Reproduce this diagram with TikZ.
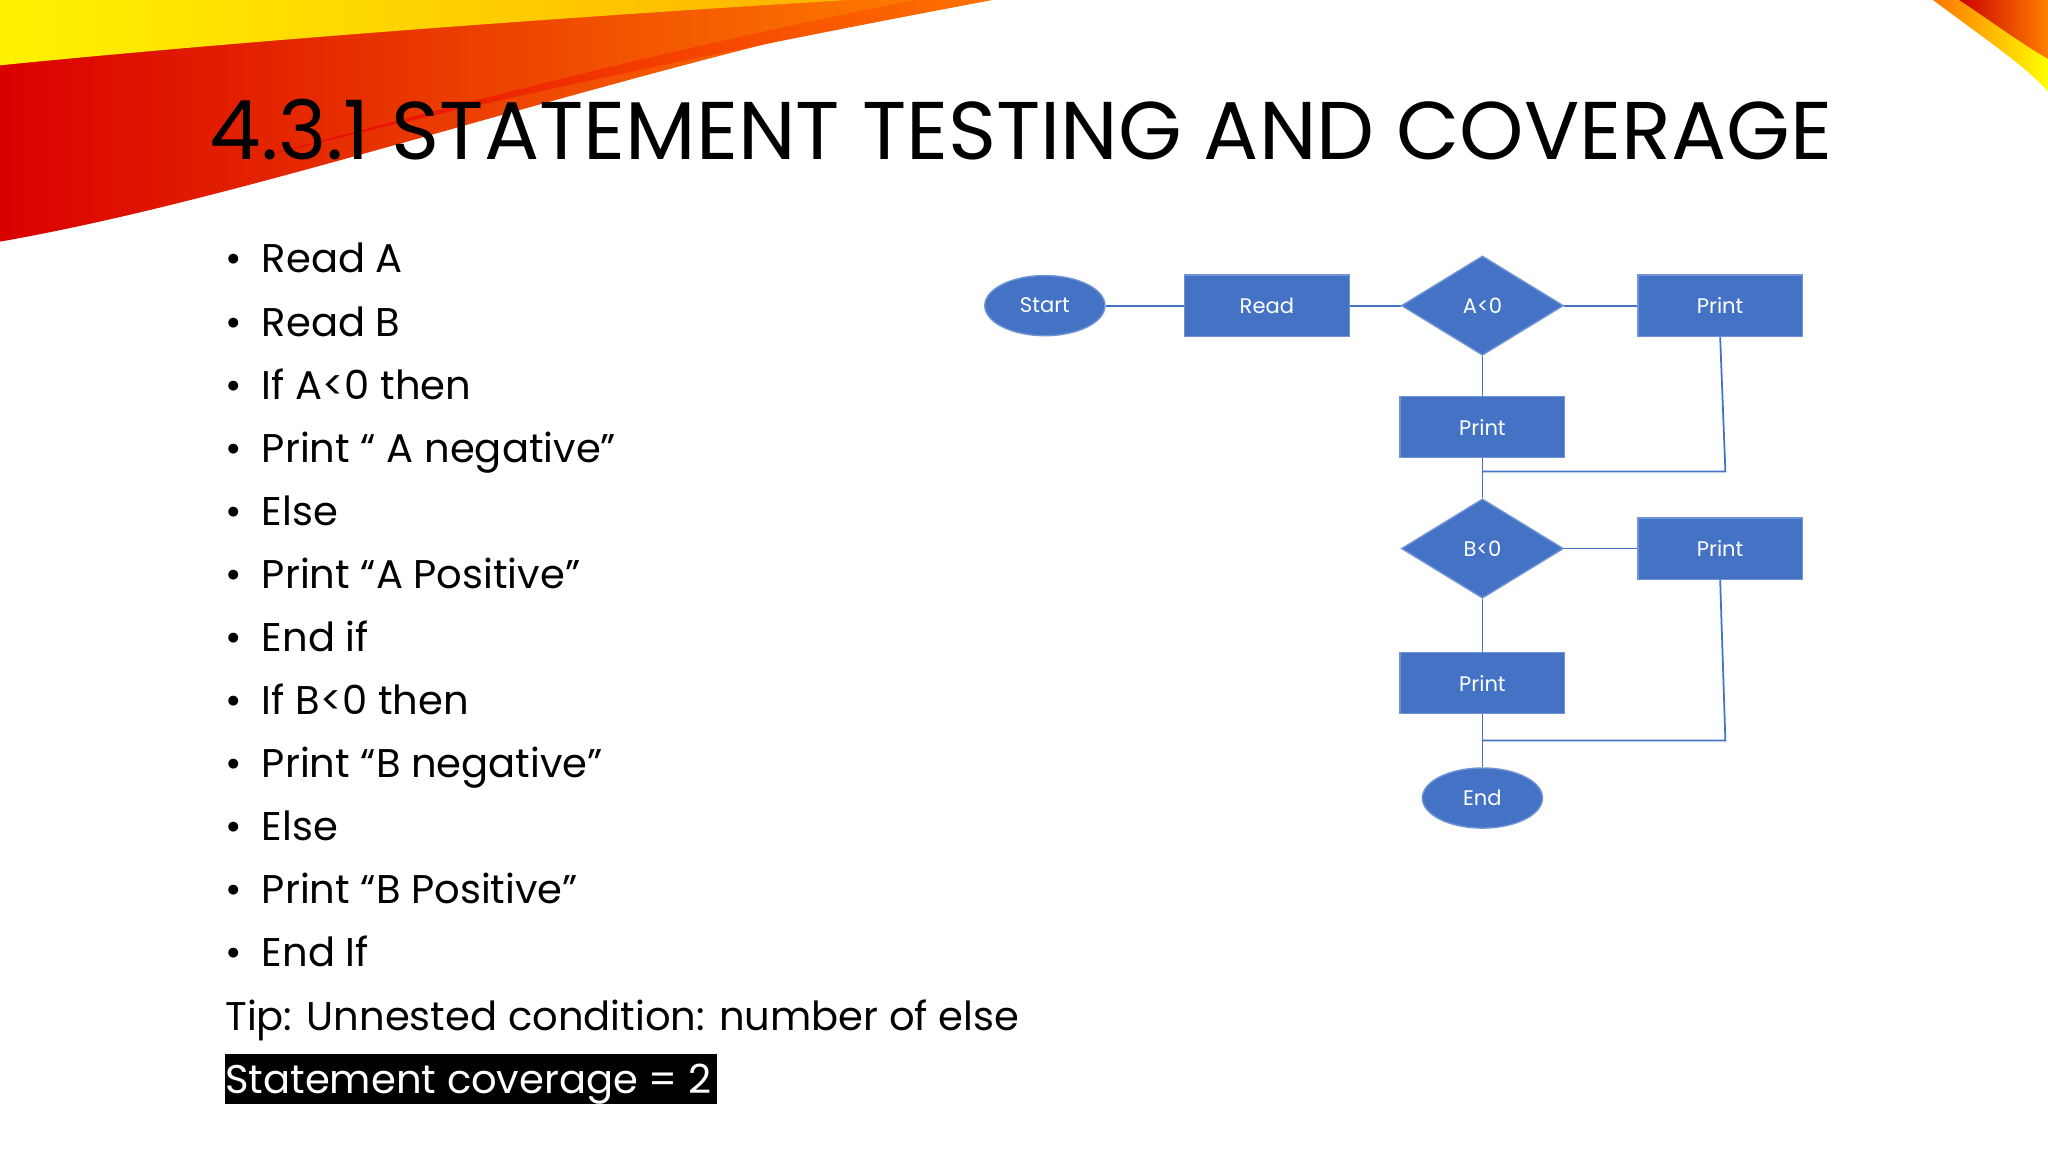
\documentclass[tikz,border=0pt]{standalone}
\usepackage{fontspec}
\setmainfont{Poppins}
\usetikzlibrary{shapes.geometric}
\definecolor{fb}{HTML}{4472C4}
\definecolor{fbl}{HTML}{6F93D6}
\tikzset{
 box/.style={draw=fbl,fill=fb,minimum width=126*0.01306cm,minimum height=47*0.01306cm,text=white,font=\fontsize{6}{7}\selectfont,inner sep=0},
 oval/.style={ellipse,draw=fbl,fill=fb,minimum width=92*0.01306cm,minimum height=46*0.01306cm,text=white,font=\fontsize{6}{7}\selectfont,inner sep=0},
 dia/.style={diamond,draw=fbl,fill=fb,minimum width=124*0.01306cm,minimum height=76*0.01306cm,aspect=1.6,text=white,font=\fontsize{6}{7}\selectfont,inner sep=0},
 ln/.style={draw=fb,line width=0.5pt},
 item/.style={anchor=base west,font=\fontsize{11.4}{14}\selectfont,inner sep=0}
}
\begin{document}
\begin{tikzpicture}[x=0.01306cm,y=-0.01306cm]
\useasboundingbox (0,0) rectangle (1568,882);
\fill[white] (0,0) rectangle (1568,882);
% swooshes
\shade[left color=red!85!black,right color=orange] (0,185) .. controls (200,150) and (450,60) .. (730,0) -- (0,0) -- cycle;
\shade[left color=yellow!90!orange,right color=orange!60!yellow] (0,50) .. controls (200,30) and (450,12) .. (650,0) -- (0,0) -- cycle;
\shade[left color=red!90!black,right color=orange!90!red] (200,120) .. controls (400,70) and (600,30) .. (760,0) -- (700,0) .. controls (500,40) and (350,80) .. (200,120);
\shade[left color=orange!90!red,right color=yellow] (1480,0) .. controls (1520,30) and (1550,50) .. (1568,70) -- (1568,0) -- cycle;
\shade[left color=red!80!black,right color=orange] (1500,0) .. controls (1530,20) and (1550,35) .. (1568,45) -- (1568,0) -- cycle;
\node[anchor=base west,inner sep=0,font=\fontsize{23.3}{25}\selectfont] (title) at (160,122) {4.3.1 STATEMENT TESTING AND COVERAGE};
% bullets
\foreach \t [count=\i from 0] in {Read A,Read B,If A<0 then,Print “ A negative”,Else,Print “A Positive”,End if,If B<0 then,Print “B negative”,Else,Print “B Positive”,End If}{
  \node[item] (b\i) at (200,209+48.3*\i) {\t};
  \node[item] (d\i) at (172,209+48.3*\i) {•};
}
\node[item] (tip) at (172,789) {Tip: Unnested condition: number of else};
\fill[black] (172,807) rectangle (549,845);
\node[item,text=white] (sc) at (172,837) {Statement coverage = 2};
% flowchart
\node[oval] (st) at (800,234) {Start};
\node[box] (rd) at (970,234) {Read};
\node[dia] (a) at (1135,234) {A<0};
\node[box] (pa1) at (1317,234) {Print};
\node[box] (pa2) at (1135,327) {Print};
\node[dia] (b) at (1135,420) {B<0};
\node[box] (pb1) at (1317,420) {Print};
\node[box] (pb2) at (1135,523) {Print};
\node[oval] (en) at (1135,611) {End};
\coordinate (j1) at (1135,361);
\coordinate (j2) at (1135,567);
\draw[ln] (st) -- (rd);
\draw[ln] (rd) -- (a);
\draw[ln] (a) -- (pa1);
\draw[ln] (a) -- (pa2);
\draw[ln] (pa2) -- (b);
\draw[ln] (pa1.south) -- (1321,361) -- (j1);
\draw[ln] (b) -- (pb1);
\draw[ln] (b) -- (pb2);
\draw[ln] (pb2) -- (en);
\draw[ln] (pb1.south) -- (1321,567) -- (j2);
\end{tikzpicture}
\end{document}
